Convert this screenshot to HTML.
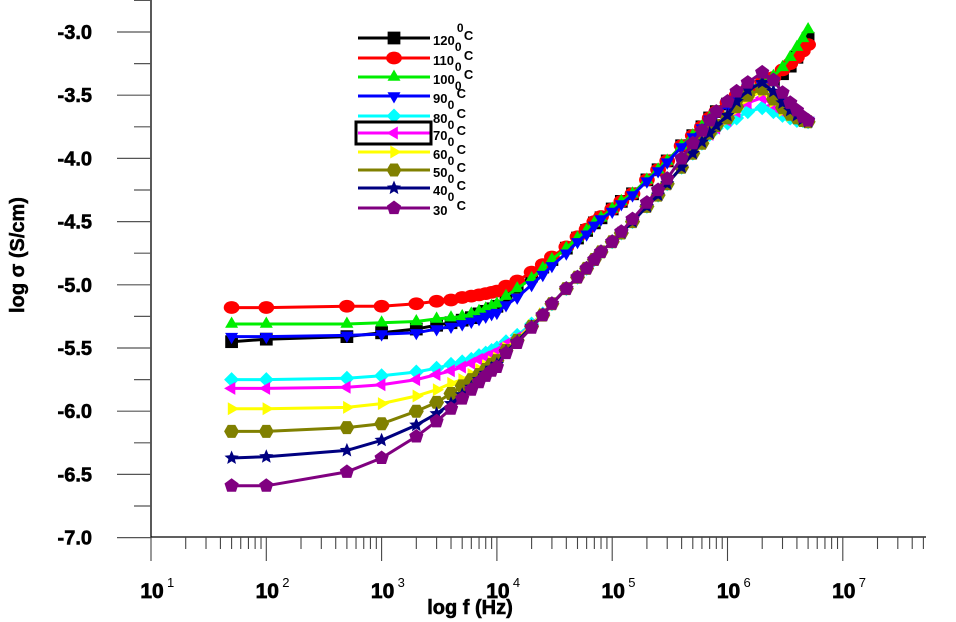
<!DOCTYPE html>
<html><head><meta charset="utf-8"><style>
html,body{margin:0;padding:0;background:#fff;}
svg{display:block;font-family:"Liberation Sans",sans-serif;}
</style></head><body>
<svg id="chart" width="956" height="622" viewBox="0 0 956 622" xmlns="http://www.w3.org/2000/svg">
<g id="axes"></g>
<g id="series"></g>
<g id="legend"></g>
<text transform="translate(24,255) rotate(-90)" text-anchor="middle" font-size="20" font-weight="bold" stroke="#000" stroke-width="0.5">log σ (S/cm)</text>
<text x="470" y="614" text-anchor="middle" font-size="20" font-weight="bold" stroke="#000" stroke-width="0.6">log f (Hz)</text>
</svg>
<script>
const freqs = [50,100,500,1e3,2e3,3e3,4e3,5e3,6e3,7e3,8e3,9e3,
 1e4,1.2e4,1.5e4,2e4,2.5e4,3e4,4e4,5e4,6e4,7e4,8e4,
 1e5,1.2e5,1.5e5,2e5,2.5e5,3e5,4e5,5e5,6e5,7e5,8e5,
 1e6,1.2e6,1.5e6,2e6,2.5e6,3e6,3.5e6,4e6,4.5e6,5e6];
const labels = ["120","110","100","90","80","70","60","50","40","30"];
const colors = ["#000000","#ff0000","#00ee00","#0000ff","#00ffff","#ff00ff","#ffff00","#808000","#000080","#800080"];
const shapes = ["square","circle","tri-up","tri-down","diamond","tri-left","tri-right","hexagon","star","pentagon"];
const s120 = [-5.45,-5.43,-5.41,-5.38,-5.35,-5.32,-5.3,-5.28,-5.26,-5.23,-5.21,-5.19,
 -5.17,-5.09,-5.02,-4.93,-4.86,-4.8,-4.71,-4.63,-4.57,-4.51,-4.47,
 -4.4,-4.34,-4.28,-4.17,-4.09,-4.02,-3.9,-3.82,-3.75,-3.68,-3.63,
 -3.57,-3.52,-3.46,-3.42,-3.38,-3.33,-3.27,-3.2,-3.12,-3.05];
const s110 = [-5.18,-5.18,-5.17,-5.17,-5.15,-5.13,-5.12,-5.1,-5.09,-5.08,-5.07,-5.06,
 -5.05,-5.01,-4.97,-4.9,-4.84,-4.78,-4.7,-4.62,-4.56,-4.5,-4.46,
 -4.4,-4.34,-4.28,-4.17,-4.09,-4.02,-3.9,-3.82,-3.75,-3.68,-3.63,
 -3.56,-3.5,-3.45,-3.4,-3.36,-3.3,-3.25,-3.2,-3.15,-3.1];
const s100 = [-5.31,-5.31,-5.31,-5.3,-5.29,-5.27,-5.26,-5.25,-5.23,-5.21,-5.19,-5.17,
 -5.15,-5.09,-5.03,-4.95,-4.87,-4.8,-4.71,-4.63,-4.57,-4.51,-4.47,
 -4.4,-4.34,-4.28,-4.17,-4.09,-4.02,-3.9,-3.82,-3.75,-3.68,-3.63,
 -3.56,-3.5,-3.45,-3.4,-3.35,-3.28,-3.2,-3.12,-3.05,-2.98];
const s90 = [-5.41,-5.41,-5.4,-5.39,-5.38,-5.35,-5.33,-5.31,-5.29,-5.27,-5.25,-5.23,
 -5.22,-5.16,-5.1,-5.0,-4.92,-4.85,-4.75,-4.66,-4.6,-4.53,-4.48,
 -4.42,-4.36,-4.29,-4.18,-4.1,-4.03,-3.91,-3.83,-3.76,-3.69,-3.64,
 -3.58,-3.5,-3.44,-3.42,-3.48,-3.55,-3.6,-3.65,-3.68,-3.7];
const s80 = [-5.75,-5.75,-5.74,-5.72,-5.69,-5.66,-5.63,-5.61,-5.59,-5.56,-5.54,-5.52,
 -5.5,-5.45,-5.4,-5.31,-5.23,-5.15,-5.03,-4.94,-4.87,-4.8,-4.74,
 -4.66,-4.59,-4.5,-4.38,-4.29,-4.2,-4.07,-3.96,-3.88,-3.81,-3.76,
 -3.72,-3.68,-3.63,-3.6,-3.63,-3.66,-3.68,-3.7,-3.7,-3.71];
const s70 = [-5.82,-5.82,-5.81,-5.79,-5.75,-5.71,-5.68,-5.65,-5.62,-5.59,-5.57,-5.55,
 -5.53,-5.47,-5.42,-5.32,-5.23,-5.15,-5.03,-4.94,-4.87,-4.8,-4.74,
 -4.66,-4.59,-4.5,-4.38,-4.29,-4.2,-4.07,-3.96,-3.88,-3.81,-3.76,
 -3.7,-3.63,-3.56,-3.52,-3.58,-3.63,-3.66,-3.68,-3.7,-3.71];
const s60 = [-5.98,-5.98,-5.97,-5.94,-5.88,-5.83,-5.78,-5.75,-5.71,-5.67,-5.64,-5.61,
 -5.58,-5.5,-5.43,-5.32,-5.23,-5.15,-5.03,-4.94,-4.87,-4.8,-4.74,
 -4.66,-4.59,-4.5,-4.38,-4.29,-4.2,-4.07,-3.96,-3.88,-3.81,-3.75,
 -3.69,-3.61,-3.52,-3.47,-3.55,-3.62,-3.66,-3.68,-3.7,-3.71];
const s50 = [-6.16,-6.16,-6.13,-6.1,-6.0,-5.93,-5.86,-5.8,-5.75,-5.71,-5.67,-5.63,
 -5.6,-5.52,-5.44,-5.33,-5.24,-5.15,-5.03,-4.94,-4.87,-4.8,-4.74,
 -4.66,-4.59,-4.5,-4.38,-4.29,-4.2,-4.07,-3.96,-3.88,-3.8,-3.74,
 -3.68,-3.59,-3.5,-3.45,-3.53,-3.6,-3.65,-3.68,-3.7,-3.71];
const s40 = [-6.37,-6.36,-6.31,-6.23,-6.11,-6.02,-5.94,-5.87,-5.81,-5.75,-5.7,-5.66,
 -5.63,-5.53,-5.45,-5.33,-5.24,-5.15,-5.03,-4.94,-4.87,-4.8,-4.74,
 -4.66,-4.59,-4.5,-4.38,-4.29,-4.2,-4.07,-3.96,-3.87,-3.8,-3.74,
 -3.66,-3.55,-3.46,-3.4,-3.47,-3.56,-3.62,-3.66,-3.69,-3.71];
const s30 = [-6.59,-6.59,-6.48,-6.37,-6.2,-6.08,-5.98,-5.9,-5.83,-5.77,-5.72,-5.68,
 -5.65,-5.54,-5.46,-5.34,-5.24,-5.15,-5.03,-4.94,-4.87,-4.8,-4.74,
 -4.66,-4.58,-4.48,-4.35,-4.25,-4.16,-4.0,-3.88,-3.78,-3.7,-3.63,
 -3.55,-3.47,-3.4,-3.32,-3.38,-3.48,-3.56,-3.62,-3.67,-3.7];
const allSeries = [s120,s110,s100,s90,s80,s70,s60,s50,s40,s30];
const yTicks = [-3.0,-3.5,-4.0,-4.5,-5.0,-5.5,-6.0,-6.5,-7.0];
const xTickExp = [1,2,3,4,5,6,7];

const NS="http://www.w3.org/2000/svg";
const X0=151, DEC=115.3, Y0=32, PER=126.4;
function xs(f){return X0+DEC*(Math.log10(f)-1);}
function ys(v){return Y0+(-3-v)*PER;}
function mk(tag,attrs,parent){const e=document.createElementNS(NS,tag);for(const k in attrs)e.setAttribute(k,attrs[k]);parent.appendChild(e);return e;}

const axes=document.getElementById('axes');
let a=mk('line',{x1:X0,y1:0,x2:X0,y2:538,stroke:'#000','stroke-width':1.3},axes);


a=mk('line',{x1:X0,y1:537,x2:926,y2:537,stroke:'#000','stroke-width':1.3},axes);


for(let v=-2.75;v>=-7.001;v-=0.25){
  const major=Math.abs(v*2-Math.round(v*2))<1e-6;
  const t=mk('line',{x1:X0-(major?34:17),y1:ys(v),x2:X0,y2:ys(v),stroke:'#555','stroke-width':1.2},axes);
  
  
}
yTicks.forEach(v=>{
  const t=mk('text',{x:92,y:ys(v)+7,'text-anchor':'end','font-size':20,'font-weight':'bold',stroke:'#000','stroke-width':0.6},axes);
  t.textContent=v.toFixed(1);
  
  
});
for(let e=1;e<=7;e++){
  for(let m=1;m<=9;m++){
    const x=X0+DEC*(e-1+Math.log10(m));
    if(x>926)break;
    const t=mk('line',{x1:x,y1:537,x2:x,y2:m===1?561:549,stroke:'#444','stroke-width':1.1},axes);
    
    
  }
}
xTickExp.forEach(e=>{
  const x=X0+DEC*(e-1);
  const t=mk('text',{x:x+1,y:598,'text-anchor':'middle','font-size':21,'font-weight':'bold',stroke:'#000','stroke-width':0.7},axes);
  t.textContent='10';
  
  
  const s=mk('text',{x:x+16,y:587,'font-size':13},axes);
  s.textContent=String(e);
  
  
});

function marker(shape,cx,cy,r,color,parent){
  let pts;
  const poly=(n,rot)=>{let p=[];for(let i=0;i<n;i++){const a=rot+i*2*Math.PI/n;p.push((cx+r*Math.cos(a)).toFixed(1)+','+(cy+r*Math.sin(a)).toFixed(1));}return p.join(' ');};
  switch(shape){
    case 'square': return mk('rect',{x:cx-r*0.85,y:cy-r*0.85,width:r*1.7,height:r*1.7,fill:color},parent);
    case 'circle': return mk('ellipse',{cx:cx,cy:cy,rx:r*1.05,ry:r*0.85,fill:color},parent);
    case 'tri-up': pts=poly(3,-Math.PI/2);break;
    case 'tri-down': pts=poly(3,Math.PI/2);break;
    case 'tri-left': pts=poly(3,Math.PI);break;
    case 'tri-right': pts=poly(3,0);break;
    case 'diamond': pts=poly(4,0);break;
    case 'hexagon': pts=poly(6,0);break;
    case 'pentagon': pts=poly(5,-Math.PI/2);break;
    case 'star': {let p=[];for(let i=0;i<10;i++){const a=-Math.PI/2+i*Math.PI/5;const rr=i%2?r*0.45:r;p.push((cx+rr*Math.cos(a)).toFixed(1)+','+(cy+rr*Math.sin(a)).toFixed(1));}pts=p.join(' ');break;}
  }
  return mk('polygon',{points:pts,fill:color},parent);
}

const sg=document.getElementById('series');
for(let i=0;i<allSeries.length;i++){
  const g=mk('g',{},sg);
  
  
  const d=allSeries[i].map((v,j)=>(j?'L':'M')+xs(freqs[j]).toFixed(1)+','+ys(v).toFixed(1)).join(' ');
  const p=mk('path',{d:d,fill:'none',stroke:colors[i],'stroke-width':3},g);
  
  
  allSeries[i].forEach((v,j)=>{
    const m=marker(shapes[i],xs(freqs[j]),ys(v),7.5,colors[i],g);
    
    
  });
}

const lg=document.getElementById('legend');
const legY=[38,58,77,96,116,133,152,170,188,208];
labels.forEach((lab,i)=>{
  const g=mk('g',{},lg);
  
  
  const y=legY[i];
  mk('line',{x1:358,y1:y,x2:430,y2:y,stroke:colors[i],'stroke-width':3},g);
  marker(shapes[i],394,y,7.5,colors[i],g);
  if(i===5) mk('rect',{x:356,y:y-11,width:75,height:22,fill:'none',stroke:'#000','stroke-width':3},g);
  const t=mk('text',{x:433,y:y+7,'font-size':13,'font-weight':'bold'},g);
  t.textContent=lab;
  const w=lab.length*7.3;
  const c=mk('text',{x:433+w+9,y:y+2,'font-size':13,'font-weight':'bold'},g);
  c.textContent='C';
  if(i<9){const z=mk('text',{x:433+w,y:y+13,'font-size':12,'font-weight':'bold'},g);z.textContent='0';}
  if(i===0){const z=mk('text',{x:433+w+2,y:y-6,'font-size':12,'font-weight':'bold'},g);z.textContent='0';}
});
</script>
</body></html>
